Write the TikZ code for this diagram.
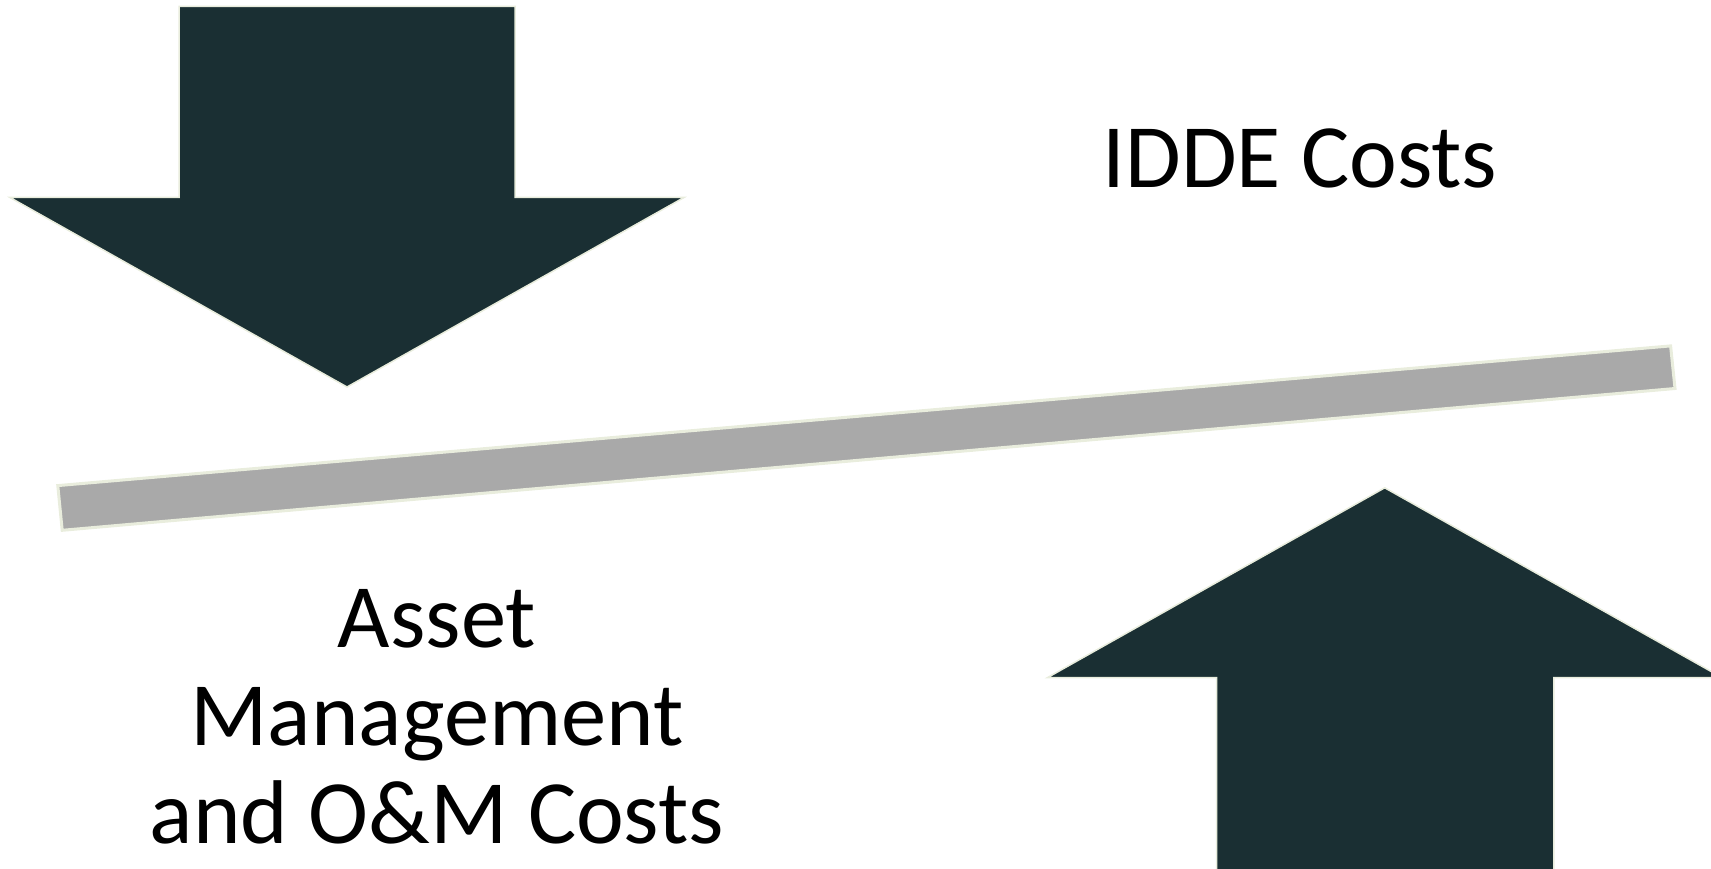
\documentclass[tikz,border=0pt]{standalone}
\usepackage{fontspec}
\setmainfont{Carlito}
\definecolor{arrowfill}{HTML}{1A2F33}
\definecolor{edgecream}{HTML}{E9EDDD}
\definecolor{bargray}{HTML}{A9A9A9}
\tikzset{
  bigarrow/.style={fill=arrowfill, draw=edgecream, line width=1.5pt, line join=miter},
  beam/.style={fill=bargray, draw=edgecream, line width=3pt},
  label/.style={inner sep=0pt, font=\fontsize{90.5}{98}\selectfont, text=black}
}
\begin{document}
\begin{tikzpicture}[x=1pt,y=-1pt]
\useasboundingbox (0,0) rectangle (1711,869);
% down arrow
\draw[bigarrow] (179,6.5) -- (515,6.5) -- (515,197.5) -- (684,197.5) -- (347,387)
  -- (10,197.5) -- (179,197.5) -- cycle;
% beam
\draw[beam] (57.8,485.6) -- (1670.6,345.9) -- (1675,388.5) -- (62.2,530.3) -- cycle;
% up arrow
\draw[bigarrow] (1216.7,900) -- (1216.7,677.6) -- (1047.5,677.6) -- (1384.7,487.8)
  -- (1722,677.6) -- (1553.9,677.6) -- (1553.9,900);
% texts
\node[label, anchor=base] (idde) at (1300,187.7) {IDDE Costs};
\node[label, anchor=base, align=center] (asset) at (437,843.5) {Asset\\Management\\and O\&M Costs};
\end{tikzpicture}
\end{document}
